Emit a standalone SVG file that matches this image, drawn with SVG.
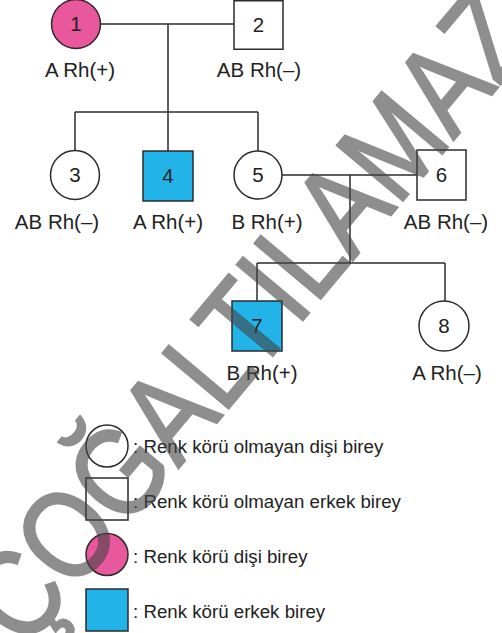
<svg xmlns="http://www.w3.org/2000/svg" width="502" height="633" viewBox="0 0 502 633">
<style>
.shape{stroke:#2b2b2b;stroke-width:1.5}
.white{fill:#ffffff}
.pink{fill:#E9579C}
.blue{fill:#22B4E8}
.num{font-family:"Liberation Sans",Arial,sans-serif;font-size:20.5px;fill:#222;text-anchor:middle}
.lbl{font-family:"Liberation Sans",Arial,sans-serif;font-size:20.5px;fill:#222;text-anchor:middle}
.leg{font-family:"Liberation Sans",Arial,sans-serif;font-size:18.7px;fill:#222}
.wm{font-family:"Liberation Sans",Arial,sans-serif;font-size:125px;fill:#444;stroke:#444;stroke-width:2.5;opacity:0.6}
</style>
<rect width="502" height="633" fill="#ffffff"/>
<g id="connectors" fill="none" stroke="#2b2b2b" stroke-width="1.5">
<path d="M100.5 24 H234"/>
<path d="M168 24 V112"/>
<path d="M75 112 H258"/>
<path d="M75 112 V150.5"/>
<path d="M168 112 V151"/>
<path d="M258 112 V151"/>
<path d="M282 175 H417"/>
<path d="M350 175 V263"/>
<path d="M257 263 H445"/>
<path d="M257 263 V301"/>
<path d="M445 263 V301"/>
</g>
<g id="node1">
<circle class="shape pink" cx="76" cy="24" r="24.5"/>
<text class="num" x="76" y="31">1</text>
<text class="lbl" x="80" y="77">A Rh(+)</text>
</g>
<g id="node2">
<rect class="shape white" x="234" y="0.75" width="49" height="48.5"/>
<text class="num" x="258.5" y="32">2</text>
<text class="lbl" x="259" y="77">AB Rh(–)</text>
</g>
<g id="node3">
<circle class="shape white" cx="75" cy="175" r="24.5"/>
<text class="num" x="75" y="182">3</text>
<text class="lbl" x="57" y="229">AB Rh(–)</text>
</g>
<g id="node4">
<rect class="shape blue" x="143" y="151" width="50" height="50"/>
<text class="num" x="168" y="183">4</text>
<text class="lbl" x="168" y="229">A Rh(+)</text>
</g>
<g id="node5">
<circle class="shape white" cx="258" cy="175" r="24"/>
<text class="num" x="258" y="182">5</text>
<text class="lbl" x="267" y="229">B Rh(+)</text>
</g>
<g id="node6">
<rect class="shape white" x="417" y="150" width="49" height="50"/>
<text class="num" x="441.5" y="182">6</text>
<text class="lbl" x="446" y="229">AB Rh(–)</text>
</g>
<g id="node7">
<rect class="shape blue" x="232" y="301" width="50" height="50"/>
<text class="num" x="257" y="333">7</text>
<text class="lbl" x="262" y="380">B Rh(+)</text>
</g>
<g id="node8">
<circle class="shape white" cx="444" cy="326" r="25"/>
<text class="num" x="444" y="333">8</text>
<text class="lbl" x="447" y="380">A Rh(–)</text>
</g>
<g id="legend">
<circle class="shape white" cx="107" cy="446" r="21"/>
<text class="leg" x="133" y="453">: Renk körü olmayan dişi birey</text>
<rect class="shape white" x="86" y="478" width="42" height="42"/>
<text class="leg" x="133" y="508">: Renk körü olmayan erkek birey</text>
<circle class="shape pink" cx="107" cy="554.5" r="21"/>
<text class="leg" x="133" y="563">: Renk körü dişi birey</text>
<rect class="shape blue" x="86" y="589" width="42" height="42"/>
<text class="leg" x="133" y="618">: Renk körü erkek birey</text>
</g>
<g id="watermark">
<text class="wm" transform="translate(25 651) rotate(-50)" x="0" y="0" textLength="800" lengthAdjust="spacingAndGlyphs">ÇOĞALTILAMAZ</text>
</g>
</svg>
